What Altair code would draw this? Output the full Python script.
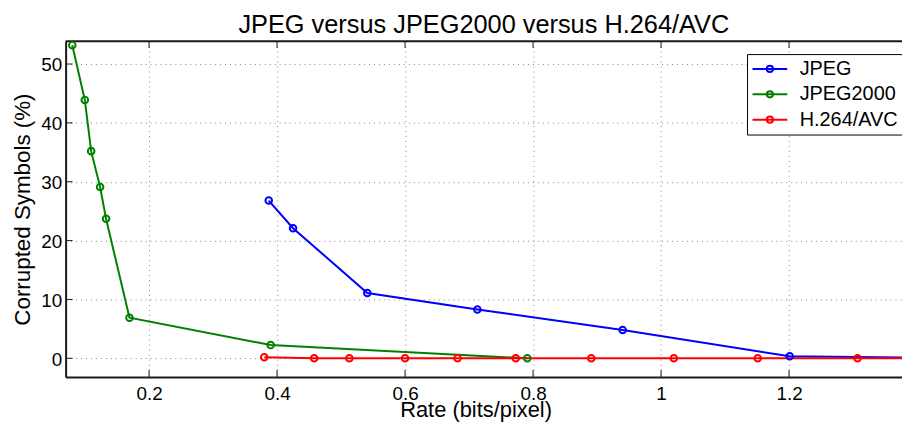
import altair as alt
import pandas as pd

series_names = ["JPEG", "JPEG2000", "H.264/AVC"]
series_colors = ["#0000FF", "#008000", "#FF0000"]

jpeg_rate = [0.387, 0.425, 0.541, 0.713, 0.940, 1.201, 1.42]
jpeg_corrupt = [26.8, 22.1, 11.1, 8.3, 4.8, 0.35, 0.1]

j2k_rate = [0.080, 0.0996, 0.1095, 0.1235, 0.1328, 0.1694, 0.390, 0.791]
j2k_corrupt = [53.2, 43.9, 35.2, 29.1, 23.7, 6.9, 2.25, 0.0]

h264_rate = [0.380, 0.458, 0.513, 0.600, 0.682, 0.773, 0.891, 1.020, 1.151, 1.307, 1.45]
h264_corrupt = [0.17, 0.0, 0.0, 0.0, 0.0, 0.0, 0.0, 0.0, 0.0, 0.0, 0.0]

x_ticks = [0.2, 0.4, 0.6, 0.8, 1.0, 1.2]
y_ticks = [0, 10, 20, 30, 40, 50]
x_domain = [0.0696, 1.3765]
y_domain = [-3.16, 53.88]

W, H = 842, 338
FONT = "Liberation Sans"

rows = []
for name, xs, ys in zip(series_names, [jpeg_rate, j2k_rate, h264_rate],
                        [jpeg_corrupt, j2k_corrupt, h264_corrupt]):
    for i, (xv, yv) in enumerate(zip(xs, ys)):
        rows.append({"series": name, "rate": xv, "corrupt": yv, "order": i})
df = pd.DataFrame(rows)

xt = pd.DataFrame({"rate": x_ticks})
yt = pd.DataFrame({"corrupt": y_ticks})
one = pd.DataFrame({"k": [0]})

x_scale = alt.Scale(domain=x_domain, nice=False, zero=False)
y_scale = alt.Scale(domain=y_domain, nice=False, zero=False)

x_axis = alt.Axis(
    values=x_ticks, format="~g", title="Rate (bits/pixel)",
    grid=True, gridDash=[1, 4], gridColor="#888888", gridWidth=1,
    ticks=False, tickSize=0,
    domainColor="#1a1a1a", domainWidth=2,
    labelFontSize=19, labelPadding=7.7, labelFlush=False, labelOverlap=False,
    labelColor="black", labelFont=FONT,
    titleFontSize=22, titleFontWeight="normal", titleColor="black", titleFont=FONT,
    titleX=412.7, titleY=40.3, titleBaseline="alphabetic", titleAlign="center",
)
y_axis = alt.Axis(
    values=y_ticks, format="d", title="Corrupted Symbols (%)",
    grid=True, gridDash=[1, 4], gridColor="#888888", gridWidth=1,
    ticks=False, tickSize=0,
    domainColor="#1a1a1a", domainWidth=2,
    labelFontSize=19, labelPadding=4, labelOverlap=False, labelOffset=1,
    labelColor="black", labelFont=FONT,
    titleFontSize=22.5, titleFontWeight="normal", titleColor="black", titleFont=FONT,
    titleX=-36, titleY=169, titleBaseline="alphabetic", titleAlign="center",
)

legend_symbol = ("M-2.06,0L2.06,0M0.37,0A0.37,0.37,0,1,1,-0.37,0"
                 "A0.37,0.37,0,1,1,0.37,0")

color = alt.Color(
    "series:N",
    scale=alt.Scale(domain=series_names, range=series_colors),
    legend=alt.Legend(
        title=None, orient="none", legendX=686, legendY=13,
        strokeColor="black", fillColor="white", padding=5, rowPadding=5.5,
        labelFontSize=20, labelFont=FONT, labelColor="black", labelOffset=20,
        symbolType=legend_symbol, symbolSize=289, symbolStrokeWidth=2,
        symbolOffset=8, symbolFillColor="transparent", cornerRadius=0,
    ),
)

base = alt.Chart(df).encode(
    x=alt.X("rate:Q", scale=x_scale, axis=x_axis),
    y=alt.Y("corrupt:Q", scale=y_scale, axis=y_axis),
    color=color,
    order=alt.Order("order:Q"),
)
lines = base.mark_line(strokeWidth=2, clip=True)
points = base.mark_point(filled=False, size=44, strokeWidth=2, clip=True, opacity=1)

tick_style = dict(color="#1a1a1a", strokeWidth=1)
xticks_bottom = alt.Chart(xt).mark_rule(**tick_style).encode(
    x=alt.X("rate:Q", scale=x_scale), y=alt.value(H), y2=alt.value(H - 7))
xticks_top = alt.Chart(xt).mark_rule(**tick_style).encode(
    x=alt.X("rate:Q", scale=x_scale), y=alt.value(0), y2=alt.value(7))
yticks_left = alt.Chart(yt).mark_rule(**tick_style).encode(
    y=alt.Y("corrupt:Q", scale=y_scale), x=alt.value(0), x2=alt.value(7))
top_border = alt.Chart(one).mark_rule(color="#1a1a1a", strokeWidth=2).encode(
    x=alt.value(0), x2=alt.value(W), y=alt.value(0))

chart = alt.layer(
    xticks_bottom, xticks_top, yticks_left, top_border, lines, points
).properties(
    width=W, height=H,
    title=alt.TitleParams(
        "JPEG versus JPEG2000 versus H.264/AVC",
        fontSize=25.5, font=FONT, fontWeight="normal", color="black",
        anchor="middle", offset=2,
    ),
    autosize=alt.AutoSizeParams(type="none"),
    padding={"left": 58, "top": 32, "right": 0, "bottom": 46},
).configure_view(stroke=None).configure(background="white")

chart.save("out.html", embed_options={"renderer": "svg", "actions": False})
